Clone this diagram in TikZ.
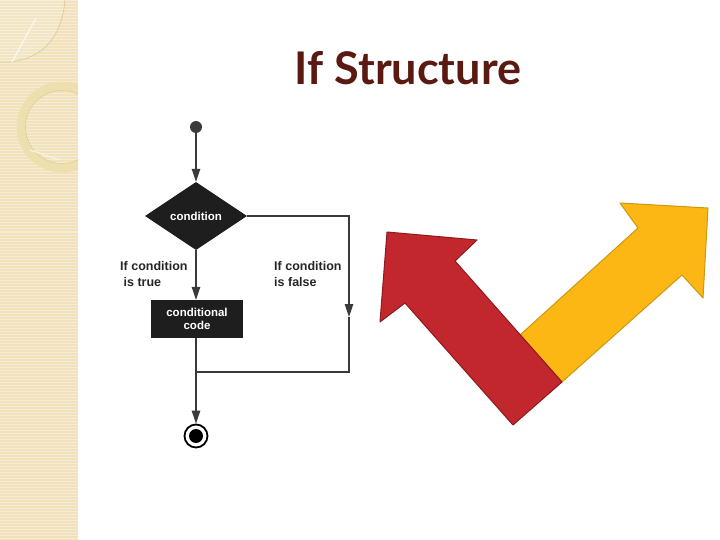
\documentclass[tikz,border=0pt]{standalone}
\usepackage{fontspec}
\setmainfont{Liberation Sans}
\newfontfamily\titlefont{Lato}
\usetikzlibrary{shapes.geometric,arrows.meta}
\definecolor{panel}{HTML}{F1E2BB}
\definecolor{panelline}{HTML}{F7EDD6}
\definecolor{deco}{HTML}{EEDFAE}
\definecolor{decoline}{HTML}{E0CD9E}
\definecolor{titlecol}{HTML}{5A1A12}
\definecolor{flow}{HTML}{3A3A3A}
\definecolor{flowfill}{HTML}{1E1E1E}
\definecolor{redfill}{HTML}{C1272D}
\definecolor{reddraw}{HTML}{8E1A1E}
\definecolor{yelfill}{HTML}{FDB714}
\definecolor{yeldraw}{HTML}{C99A10}
\tikzset{
  conn/.style={draw=flow, line width=1.2pt},
  tip/.style={-{Triangle[width=8.5pt,length=13pt]}},
  lbl/.style={font=\bfseries\fontsize{12.5}{16}\selectfont, align=left, text=black!85, inner sep=0pt},
  boxtext/.style={text=white, font=\bfseries\fontsize{11.5}{13.5}\selectfont, align=center}
}
\begin{document}
\begin{tikzpicture}[x=1pt,y=-1pt]
\useasboundingbox (0,0) rectangle (720,540);
\fill[white] (0,0) rectangle (720,540);
% left panel
\fill[panel] (0,0) rectangle (78,540);
\foreach \yy in {1,4,...,540} { \draw[panelline, line width=1pt] (0,\yy) -- (78,\yy); }
\begin{scope}
\clip (0,0) rectangle (78,540);
\fill[white, opacity=0.12] (0,0) -- (0,62) -- (10,62) .. controls (45,58) and (62,35) .. (65,0) -- cycle;
\draw[decoline, line width=0.8pt] (0,62) -- (10,62) .. controls (45,58) and (62,35) .. (65,0);
\draw[white!70!panel, line width=1.5pt] (12,62) -- (36,18);
\draw[deco, line width=9pt] (62,127) circle (41);
\draw[decoline, line width=0.6pt] (62,127) circle (36.5);
\draw[white!60!panel, line width=1pt] (30,150) -- (60,160);
\end{scope}
% title
\node[text=titlecol, font=\titlefont\bfseries\fontsize{45}{50}\selectfont, anchor=center] (title) at (408,68) {If Structure};
% flowchart
\node[circle, fill=flow, minimum size=12pt, inner sep=0pt] (start) at (196,127) {};
\node[diamond, fill=flowfill, minimum width=102pt, minimum height=68pt, inner sep=0pt, text=white, font=\bfseries\fontsize{11.5}{13}\selectfont] (cond) at (196,216) {condition};
\node[rectangle, fill=flowfill, minimum width=92pt, minimum height=38pt, inner sep=0pt, boxtext] (code) at (197,319) {conditional\\code};
\node[circle, draw=black, line width=1.8pt, fill=white, minimum size=23pt, inner sep=0pt] (end) at (196,436) {};
\node[circle, fill=black, minimum size=14pt, inner sep=0pt] (endin) at (196,436) {};
\coordinate (r1) at (349,216);
\coordinate (ra) at (349,317);
\coordinate (r2) at (349,372);
\coordinate (j) at (196,372);
\draw[conn, tip] (start) -- (cond.north);
\draw[conn, tip] (cond.south) -- (code.north -| cond.south);
\draw[conn, tip] (code.south -| start) -- (end.north);
\draw[conn, tip] (cond.east) -- (r1) -- (ra);
\draw[conn] (ra) -- (r2) -- (j);
\node[lbl, anchor=north west] (lt) at (120,261) {If condition\\\ is true};
\node[lbl, anchor=north west] (lf) at (274,261) {If condition\\is false};
% big arrows
\fill[yelfill, draw=yeldraw, line width=1pt, line join=round]
  (520,335) -- (638,228) -- (620,203) -- (708,208) -- (703,298) -- (682,275) -- (562,382) -- cycle;
\fill[redfill, draw=reddraw, line width=1pt, line join=round]
  (387,232) -- (477,240) -- (455,261) -- (562,382) -- (513,425) -- (405,303) -- (380,322) -- cycle;
\end{tikzpicture}
\end{document}
